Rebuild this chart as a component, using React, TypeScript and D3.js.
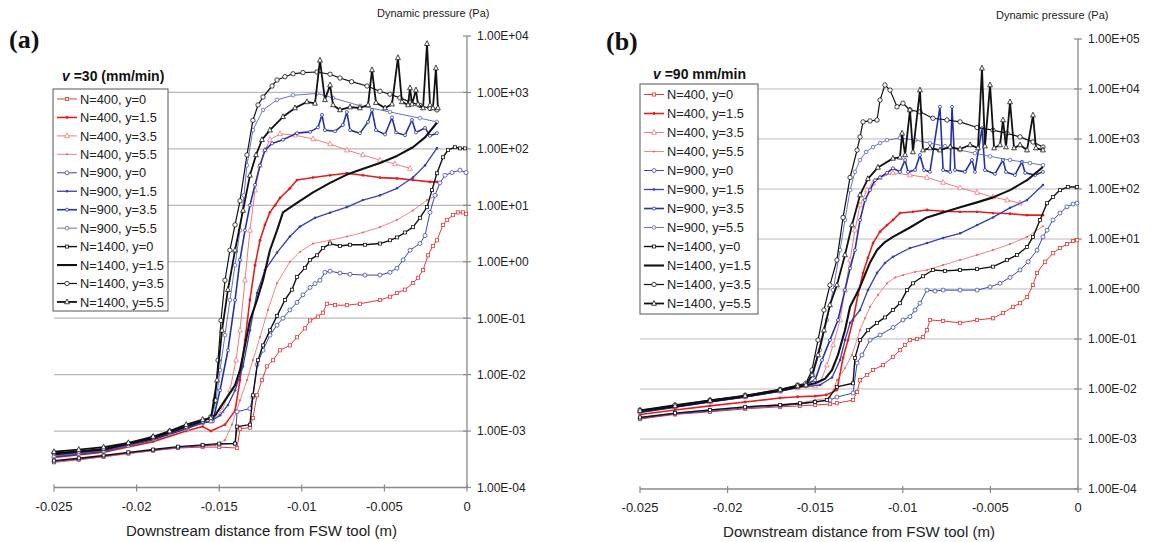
import React from "react";
import * as d3 from "d3";

type Pt = [number, number];

// ---------- axis / label data ----------
const xTickValues = [-0.025, -0.02, -0.015, -0.01, -0.005, 0];
const xTickLabels = ["-0.025", "-0.02", "-0.015", "-0.01", "-0.005", "0"];
const yTickValuesA = [1e-4, 1e-3, 1e-2, 1e-1, 1, 10, 100, 1000, 10000];
const yTickLabelsA = ["1.00E-04", "1.00E-03", "1.00E-02", "1.00E-01", "1.00E+00", "1.00E+01", "1.00E+02", "1.00E+03", "1.00E+04"];
const yTickValuesB = [1e-4, 1e-3, 1e-2, 1e-1, 1, 10, 100, 1000, 10000, 100000];
const yTickLabelsB = ["1.00E-04", "1.00E-03", "1.00E-02", "1.00E-01", "1.00E+00", "1.00E+01", "1.00E+02", "1.00E+03", "1.00E+04", "1.00E+05"];
const seriesLabels = [
  "N=400, y=0", "N=400, y=1.5", "N=400, y=3.5", "N=400, y=5.5",
  "N=900, y=0", "N=900, y=1.5", "N=900, y=3.5", "N=900, y=5.5",
  "N=1400, y=0", "N=1400, y=1.5", "N=1400, y=3.5", "N=1400, y=5.5",
];
const yAxisTitle = "Dynamic pressure (Pa)";
const xAxisTitle = "Downstream distance from FSW tool (m)";

// ---------- panel (a): v = 30 mm/min ----------
const a_N400_y0: Pt[] = [[-0.025,2.8e-4],[-0.0235,3.1e-4],[-0.022,3.5e-4],[-0.0205,4.0e-4],[-0.019,4.5e-4],[-0.0175,5.0e-4],[-0.016,5.2e-4],[-0.015,5.2e-4],[-0.01392,5.0e-4],[-0.01374,1.1e-3],[-0.01314,1.15e-3],[-0.01296,1.7e-3],[-0.01271,4.3e-3],[-0.01241,8.0e-3],[-0.01211,0.014],[-0.01174,0.018],[-0.01132,0.027],[-0.01072,0.033],[-0.01029,0.046],[-0.00981,0.066],[-0.0095,0.091],[-0.00902,0.107],[-0.00872,0.125],[-0.00848,0.18],[-0.00799,0.17],[-0.00727,0.17],[-0.00648,0.18],[-0.00527,0.21],[-0.00466,0.24],[-0.00424,0.28],[-0.00375,0.32],[-0.00327,0.42],[-0.00297,0.52],[-0.00266,0.71],[-0.00236,1.3],[-0.00206,1.9],[-0.00182,2.4],[-0.00145,4.5],[-0.00121,5.5],[-0.00085,6.7],[-0.00055,7.5],[-0.00024,7.5],[-0.00006,7.0]];
const a_N400_y15: Pt[] = [[-0.025,3.4e-4],[-0.022,4.2e-4],[-0.019,6.5e-4],[-0.017,1.0e-3],[-0.016,1.2e-3],[-0.0155,1.0e-3],[-0.01465,1.3e-3],[-0.01404,2.3e-3],[-0.01374,8.0e-3],[-0.01344,0.041],[-0.01314,0.21],[-0.01283,0.87],[-0.01253,2.4],[-0.01223,4.5],[-0.01193,7.5],[-0.01162,10],[-0.01132,13.5],[-0.01072,20],[-0.01029,28],[-0.00932,31],[-0.00829,34],[-0.00727,37],[-0.0063,34],[-0.00527,31],[-0.00424,30],[-0.00327,28],[-0.00224,26],[-0.00182,26]];
const a_N400_y35: Pt[] = [[-0.025,3.6e-4],[-0.022,4.5e-4],[-0.019,7.2e-4],[-0.017,1.1e-3],[-0.016,1.4e-3],[-0.0155,1.5e-3],[-0.01483,2.3e-3],[-0.01435,5.3e-3],[-0.01398,0.018],[-0.01374,0.061],[-0.01344,0.47],[-0.01314,3.6],[-0.01283,18.6],[-0.01253,51],[-0.01223,95],[-0.01193,145],[-0.01132,185],[-0.01041,175],[-0.00932,150],[-0.00829,122],[-0.00727,95],[-0.0063,78],[-0.00527,63],[-0.00436,54],[-0.00345,45]];
const a_N400_y55: Pt[] = [[-0.025,2.8e-4],[-0.022,3.5e-4],[-0.019,4.5e-4],[-0.017,5.2e-4],[-0.01525,5.6e-4],[-0.01465,6.9e-4],[-0.01423,1.3e-3],[-0.01374,3.5e-3],[-0.01332,8.0e-3],[-0.01296,0.018],[-0.01253,0.046],[-0.01205,0.14],[-0.0115,0.42],[-0.01072,1.0],[-0.01011,1.5],[-0.00932,2.1],[-0.00829,2.4],[-0.00727,2.8],[-0.0063,3.3],[-0.00527,4.1],[-0.00424,5.5],[-0.00327,8.1],[-0.00242,12.4],[-0.00182,15]];
const a_N900_y0: Pt[] = [[-0.025,2.9e-4],[-0.0235,3.2e-4],[-0.022,3.6e-4],[-0.0205,4.1e-4],[-0.019,4.6e-4],[-0.0175,5.1e-4],[-0.016,5.5e-4],[-0.015,5.8e-4],[-0.01404,6.0e-4],[-0.01392,2.2e-3],[-0.01314,2.5e-3],[-0.01296,4.0e-3],[-0.01271,0.015],[-0.01235,0.027],[-0.01193,0.05],[-0.0115,0.075],[-0.01114,0.1],[-0.01072,0.14],[-0.01029,0.19],[-0.00993,0.26],[-0.0095,0.35],[-0.0092,0.41],[-0.0089,0.47],[-0.0086,0.65],[-0.00829,0.68],[-0.00769,0.63],[-0.00708,0.6],[-0.00618,0.58],[-0.00527,0.58],[-0.00466,0.65],[-0.00424,0.77],[-0.00387,1.08],[-0.00345,1.6],[-0.00285,2.1],[-0.00254,2.9],[-0.00224,7.5],[-0.00194,15],[-0.00164,25],[-0.00133,34],[-0.00091,38],[-0.00042,42],[-0.00006,38]];
const a_N900_y15: Pt[] = [[-0.025,3.8e-4],[-0.022,4.6e-4],[-0.019,7.4e-4],[-0.017,1.15e-3],[-0.016,1.45e-3],[-0.0155,1.5e-3],[-0.01495,1.9e-3],[-0.01447,2.9e-3],[-0.01404,5.3e-3],[-0.01356,0.014],[-0.01314,0.061],[-0.01271,0.28],[-0.01223,0.71],[-0.0115,1.45],[-0.01072,2.8],[-0.01011,4.2],[-0.0092,6.0],[-0.00829,7.4],[-0.00727,9.3],[-0.0063,12.4],[-0.00527,15],[-0.00424,20],[-0.00327,31],[-0.00254,51],[-0.00182,103]];
const a_N900_y35: Pt[] = [[-0.025,3.5e-4],[-0.022,4.4e-4],[-0.019,7.0e-4],[-0.017,1.1e-3],[-0.016,1.4e-3],[-0.01538,1.5e-3],[-0.01495,5.3e-3],[-0.01447,0.027],[-0.01404,0.21],[-0.01374,1.08],[-0.01344,3.6],[-0.01314,10],[-0.01283,23],[-0.01253,51],[-0.01223,95],[-0.0118,125],[-0.01114,145],[-0.01029,190],[-0.0095,200],[-0.00902,240],[-0.00878,400],[-0.0086,215],[-0.00799,205],[-0.00751,265],[-0.00727,450],[-0.00708,215],[-0.00648,190],[-0.00599,300],[-0.00575,490],[-0.00551,215],[-0.00496,180],[-0.00454,360],[-0.0043,195],[-0.00375,175],[-0.00333,325],[-0.00309,195],[-0.00254,235],[-0.00224,170],[-0.00182,190]];
const a_N900_y55: Pt[] = [[-0.025,3.6e-4],[-0.0235,4.0e-4],[-0.022,4.5e-4],[-0.0205,5.5e-4],[-0.019,7.3e-4],[-0.018,9.3e-4],[-0.017,1.15e-3],[-0.016,1.45e-3],[-0.0155,1.5e-3],[-0.01519,3.5e-3],[-0.01495,0.012],[-0.01465,0.05],[-0.01435,0.21],[-0.01404,0.87],[-0.01374,3.6],[-0.0135,15],[-0.01332,51],[-0.01296,215],[-0.01235,490],[-0.0115,740],[-0.01053,890],[-0.00908,960],[-0.00811,800],[-0.00648,580],[-0.00466,450],[-0.00285,350],[-0.00182,300]];
const a_N1400_y0: Pt[] = [[-0.025,3.0e-4],[-0.0235,3.3e-4],[-0.022,3.7e-4],[-0.0205,4.2e-4],[-0.019,4.7e-4],[-0.0175,5.3e-4],[-0.016,5.7e-4],[-0.015,6.0e-4],[-0.01404,6.0e-4],[-0.01392,1.2e-3],[-0.01314,1.3e-3],[-0.01296,4.3e-3],[-0.01265,0.018],[-0.01235,0.033],[-0.01193,0.061],[-0.0115,0.11],[-0.01102,0.21],[-0.0106,0.32],[-0.01029,0.54],[-0.00981,0.78],[-0.0095,1.08],[-0.00908,1.3],[-0.00872,1.75],[-0.00829,2.1],[-0.00769,1.9],[-0.00708,2.0],[-0.00618,2.0],[-0.00527,2.1],[-0.00466,2.4],[-0.00424,2.7],[-0.00375,3.3],[-0.00327,4.1],[-0.00285,6.0],[-0.00242,9.3],[-0.00212,18.6],[-0.00182,37],[-0.00145,71],[-0.00115,95],[-0.00073,107],[-0.00042,102],[-0.00012,102]];
const a_N1400_y15: Pt[] = [[-0.025,3.9e-4],[-0.022,4.7e-4],[-0.019,7.5e-4],[-0.017,1.2e-3],[-0.016,1.5e-3],[-0.01525,1.9e-3],[-0.01465,3.5e-3],[-0.01404,6.5e-3],[-0.01374,0.012],[-0.01344,0.033],[-0.01314,0.091],[-0.01271,0.21],[-0.01235,0.47],[-0.01193,1.6],[-0.0115,3.6],[-0.01114,7.5],[-0.01029,11],[-0.00932,17],[-0.00829,25],[-0.00727,35],[-0.00624,45],[-0.00527,56],[-0.00424,75],[-0.00327,107],[-0.00254,160],[-0.00182,290]];
const a_N1400_y35: Pt[] = [[-0.025,4.1e-4],[-0.0235,4.4e-4],[-0.022,4.9e-4],[-0.0205,6.0e-4],[-0.019,7.8e-4],[-0.018,1.0e-3],[-0.017,1.2e-3],[-0.016,1.5e-3],[-0.0155,1.8e-3],[-0.01525,3.5e-3],[-0.01507,0.018],[-0.01489,0.091],[-0.01465,0.47],[-0.01435,1.6],[-0.01404,4.5],[-0.01374,12],[-0.01332,78],[-0.01296,320],[-0.01265,600],[-0.01235,830],[-0.0118,1300],[-0.0115,1660],[-0.01102,1900],[-0.01053,2140],[-0.00993,2250],[-0.00908,2300],[-0.00829,2100],[-0.00769,1800],[-0.00699,1550],[-0.00605,1300],[-0.00527,1050],[-0.00466,930],[-0.00406,800],[-0.00345,680],[-0.00285,590],[-0.00224,520],[-0.00182,490]];
const a_N1400_y55: Pt[] = [[-0.025,4.3e-4],[-0.0235,4.7e-4],[-0.022,5.2e-4],[-0.0205,6.2e-4],[-0.019,8.0e-4],[-0.018,1.0e-3],[-0.017,1.3e-3],[-0.016,1.6e-3],[-0.0155,1.7e-3],[-0.01513,0.008],[-0.01483,0.061],[-0.01447,0.32],[-0.01404,1.6],[-0.01356,8.1],[-0.01314,34],[-0.01277,78],[-0.01241,145],[-0.01193,215],[-0.01114,370],[-0.01041,530],[-0.00969,680],[-0.0092,640],[-0.0089,3700],[-0.0086,740],[-0.00829,1350],[-0.00811,600],[-0.00769,490],[-0.00708,550],[-0.00648,530],[-0.00599,600],[-0.00575,2500],[-0.00551,660],[-0.00496,530],[-0.00454,620],[-0.00418,4100],[-0.00394,680],[-0.00357,600],[-0.00345,1200],[-0.00333,620],[-0.00309,1100],[-0.00297,620],[-0.00266,530],[-0.00242,7300],[-0.00224,600],[-0.00206,530],[-0.00188,2700],[-0.00176,530]];

// ---------- panel (b): v = 90 mm/min ----------
const b_N400_y0: Pt[] = [[-0.025,2.5e-3],[-0.023,3.1e-3],[-0.021,3.5e-3],[-0.019,4.0e-3],[-0.017,4.4e-3],[-0.01587,4.6e-3],[-0.01501,4.8e-3],[-0.01416,5.0e-3],[-0.01376,5.2e-3],[-0.01284,6.0e-3],[-0.01261,8.7e-3],[-0.01244,0.015],[-0.01204,0.019],[-0.0117,0.024],[-0.01113,0.03],[-0.01056,0.044],[-0.01016,0.06],[-0.00987,0.076],[-0.00959,0.095],[-0.00919,0.1],[-0.00885,0.11],[-0.00862,0.15],[-0.00845,0.24],[-0.0077,0.23],[-0.00673,0.21],[-0.00576,0.24],[-0.00485,0.26],[-0.00428,0.33],[-0.00371,0.44],[-0.00331,0.52],[-0.00291,0.69],[-0.00257,1.2],[-0.00234,2.1],[-0.00188,3.5],[-0.00143,5.2],[-0.00103,6.6],[-0.00063,7.9],[-0.00028,9.1],[-0.00006,9.5]];
const b_N400_y15: Pt[] = [[-0.025,3.1e-3],[-0.023,3.8e-3],[-0.021,4.6e-3],[-0.019,5.5e-3],[-0.017,6.6e-3],[-0.016,7.0e-3],[-0.01501,7.2e-3],[-0.01438,7.6e-3],[-0.01376,9.5e-3],[-0.01341,0.042],[-0.01313,0.095],[-0.01284,0.24],[-0.01256,0.76],[-0.01227,2.1],[-0.01199,4.2],[-0.0117,8.3],[-0.0113,14],[-0.0109,19],[-0.01056,24],[-0.01016,33],[-0.00942,35],[-0.00862,38],[-0.0077,36],[-0.00673,35],[-0.00576,35],[-0.00485,33],[-0.00388,32],[-0.00291,30],[-0.002,30]];
const b_N400_y35: Pt[] = [[-0.025,3.5e-3],[-0.023,4.4e-3],[-0.021,5.5e-3],[-0.019,6.9e-3],[-0.017,9.0e-3],[-0.016,0.0105],[-0.01501,0.0115],[-0.01473,0.013],[-0.01433,0.03],[-0.01398,0.076],[-0.01358,0.24],[-0.0133,0.95],[-0.01301,3.8],[-0.01273,15],[-0.01244,48],[-0.01204,95],[-0.0117,130],[-0.0113,170],[-0.01056,210],[-0.00959,190],[-0.00862,170],[-0.0077,135],[-0.00673,105],[-0.00576,85],[-0.00485,69],[-0.00405,60],[-0.00331,52]];
const b_N400_y55: Pt[] = [[-0.025,2.7e-3],[-0.023,3.3e-3],[-0.021,3.8e-3],[-0.019,4.4e-3],[-0.017,4.9e-3],[-0.01587,5.2e-3],[-0.01501,6.0e-3],[-0.01416,6.6e-3],[-0.01376,0.015],[-0.0133,0.026],[-0.0129,0.048],[-0.01244,0.15],[-0.01216,0.26],[-0.01187,0.44],[-0.01142,0.76],[-0.0109,1.3],[-0.01044,1.7],[-0.00999,1.9],[-0.0093,2.2],[-0.00862,2.4],[-0.0077,3.0],[-0.00673,3.8],[-0.00576,4.8],[-0.00485,6.0],[-0.00388,7.9],[-0.00291,11],[-0.002,18]];
const b_N900_y0: Pt[] = [[-0.025,2.6e-3],[-0.023,3.2e-3],[-0.021,3.6e-3],[-0.019,4.2e-3],[-0.017,4.6e-3],[-0.01587,5.0e-3],[-0.01501,5.5e-3],[-0.01416,6.0e-3],[-0.01376,6.9e-3],[-0.01284,8.3e-3],[-0.01261,0.033],[-0.01233,0.048],[-0.01187,0.095],[-0.0113,0.12],[-0.01056,0.17],[-0.00999,0.24],[-0.00959,0.28],[-0.0093,0.38],[-0.00902,0.52],[-0.00862,0.95],[-0.00816,0.91],[-0.0077,0.95],[-0.00673,0.95],[-0.00576,0.95],[-0.00502,1.1],[-0.00445,1.3],[-0.00388,1.7],[-0.00331,2.4],[-0.00285,3.5],[-0.00234,6.0],[-0.002,11],[-0.00177,15],[-0.00143,24],[-0.00103,33],[-0.00063,44],[-0.00028,50],[-0.00006,52]];
const b_N900_y15: Pt[] = [[-0.025,3.5e-3],[-0.023,4.4e-3],[-0.021,5.6e-3],[-0.019,7.0e-3],[-0.017,9.1e-3],[-0.016,0.011],[-0.01473,0.012],[-0.01404,0.017],[-0.01358,0.038],[-0.0133,0.095],[-0.01301,0.21],[-0.01244,0.38],[-0.01199,0.95],[-0.01147,2.1],[-0.01102,3.3],[-0.01056,4.4],[-0.00959,6.6],[-0.00862,8.3],[-0.0077,10.5],[-0.00673,13],[-0.00576,19],[-0.00485,27],[-0.00388,42],[-0.00291,60],[-0.002,120]];
const b_N900_y35: Pt[] = [[-0.025,3.4e-3],[-0.023,4.3e-3],[-0.021,5.5e-3],[-0.019,6.9e-3],[-0.017,9.0e-3],[-0.016,0.0108],[-0.01501,0.015],[-0.01461,0.038],[-0.01416,0.095],[-0.0137,0.24],[-0.0133,0.95],[-0.01301,2.6],[-0.01273,6.0],[-0.01244,24],[-0.01216,60],[-0.01187,95],[-0.01159,150],[-0.0113,170],[-0.0109,210],[-0.01056,260],[-0.01016,220],[-0.00987,380],[-0.0097,220],[-0.0093,240],[-0.00902,480],[-0.00879,240],[-0.00845,220],[-0.00788,4400],[-0.0077,240],[-0.0073,220],[-0.00719,4400],[-0.00702,240],[-0.00645,220],[-0.00605,380],[-0.00588,220],[-0.00548,1650],[-0.00531,240],[-0.00474,200],[-0.00428,380],[-0.00411,220],[-0.0036,190],[-0.0032,350],[-0.00302,210],[-0.00245,190],[-0.002,220]];
const b_N900_y55: Pt[] = [[-0.025,3.5e-3],[-0.023,4.4e-3],[-0.021,5.6e-3],[-0.019,7.0e-3],[-0.017,9.2e-3],[-0.016,0.011],[-0.01553,0.0115],[-0.01512,0.019],[-0.01473,0.06],[-0.01433,0.24],[-0.01398,0.95],[-0.01358,6.0],[-0.0133,24],[-0.01301,95],[-0.01273,220],[-0.01244,380],[-0.0121,550],[-0.0117,690],[-0.0113,830],[-0.0109,950],[-0.01016,1050],[-0.0093,950],[-0.00845,830],[-0.00759,720],[-0.00673,600],[-0.00588,520],[-0.00502,450],[-0.00388,380],[-0.00274,330],[-0.002,300]];
const b_N1400_y0: Pt[] = [[-0.025,2.7e-3],[-0.023,3.3e-3],[-0.021,3.8e-3],[-0.019,4.4e-3],[-0.017,4.8e-3],[-0.01587,5.2e-3],[-0.01501,5.5e-3],[-0.01433,6.0e-3],[-0.01376,0.011],[-0.01284,0.013],[-0.01273,0.042],[-0.01244,0.095],[-0.01199,0.15],[-0.01147,0.21],[-0.01102,0.27],[-0.01056,0.38],[-0.01016,0.52],[-0.00976,0.95],[-0.00942,1.3],[-0.00885,1.8],[-0.00828,2.4],[-0.00759,2.3],[-0.00673,2.4],[-0.00576,2.5],[-0.00485,2.8],[-0.00405,3.8],[-0.00348,4.8],[-0.00291,6.9],[-0.00257,11],[-0.00217,24],[-0.00177,52],[-0.00143,69],[-0.00103,95],[-0.00057,110],[-0.00006,110]];
const b_N1400_y15: Pt[] = [[-0.025,3.6e-3],[-0.023,4.5e-3],[-0.021,5.7e-3],[-0.019,7.1e-3],[-0.017,9.3e-3],[-0.016,0.011],[-0.01501,0.013],[-0.01444,0.016],[-0.01404,0.024],[-0.0137,0.048],[-0.0133,0.15],[-0.01301,0.44],[-0.01244,1.1],[-0.01187,3.4],[-0.01147,6.0],[-0.01102,8.7],[-0.01056,11],[-0.00959,17],[-0.00862,27],[-0.0077,34],[-0.00673,43],[-0.00576,54],[-0.00485,68],[-0.00388,95],[-0.00291,150],[-0.002,275]];
const b_N1400_y35: Pt[] = [[-0.025,3.8e-3],[-0.023,4.8e-3],[-0.021,6.0e-3],[-0.019,7.5e-3],[-0.017,9.8e-3],[-0.016,0.012],[-0.01553,0.013],[-0.01518,0.024],[-0.01484,0.095],[-0.0145,0.38],[-0.01416,1.2],[-0.01376,3.8],[-0.01341,27],[-0.01301,170],[-0.01261,600],[-0.01244,1100],[-0.01227,2200],[-0.01187,2300],[-0.01147,2400],[-0.0113,6000],[-0.01102,12000],[-0.01073,9500],[-0.01033,4400],[-0.00999,5200],[-0.00959,3800],[-0.00902,3500],[-0.00828,2600],[-0.00748,2400],[-0.00673,2200],[-0.00576,1700],[-0.00485,1500],[-0.00405,1300],[-0.00331,1100],[-0.00257,870],[-0.002,690]];
const b_N1400_y55: Pt[] = [[-0.025,3.7e-3],[-0.023,4.6e-3],[-0.021,5.9e-3],[-0.019,7.3e-3],[-0.017,9.6e-3],[-0.016,0.0115],[-0.01553,0.012],[-0.01518,0.019],[-0.01484,0.048],[-0.0145,0.15],[-0.01416,0.48],[-0.01376,1.2],[-0.0133,4.8],[-0.0129,19],[-0.01244,76],[-0.01199,160],[-0.01142,270],[-0.01056,410],[-0.01016,430],[-0.01004,1300],[-0.00987,480],[-0.00959,3800],[-0.00942,550],[-0.00902,9500],[-0.00885,600],[-0.00845,660],[-0.00788,600],[-0.0073,690],[-0.00673,630],[-0.00616,760],[-0.00571,660],[-0.00548,26000],[-0.00531,720],[-0.00502,12000],[-0.00479,660],[-0.00445,760],[-0.00428,2400],[-0.00411,690],[-0.00388,5500],[-0.00365,660],[-0.00331,760],[-0.00291,600],[-0.00257,3000],[-0.0024,660],[-0.002,600]];

const seriesA: Pt[][] = [a_N400_y0, a_N400_y15, a_N400_y35, a_N400_y55, a_N900_y0, a_N900_y15, a_N900_y35, a_N900_y55, a_N1400_y0, a_N1400_y15, a_N1400_y35, a_N1400_y55];
const seriesB: Pt[][] = [b_N400_y0, b_N400_y15, b_N400_y35, b_N400_y55, b_N900_y0, b_N900_y15, b_N900_y35, b_N900_y55, b_N1400_y0, b_N1400_y15, b_N1400_y35, b_N1400_y55];

// ---------- styles ----------
type Style = { color: string; width: number; marker: string; size: number };
const styles: Style[] = [
  { color: "#e23a3a", width: 1.0, marker: "square", size: 3.2 },
  { color: "#e41e1e", width: 1.6, marker: "dot", size: 1.4 },
  { color: "#f07b7b", width: 1.0, marker: "triangle", size: 3.0 },
  { color: "#f06565", width: 0.8, marker: "dot", size: 1.1 },
  { color: "#3848b6", width: 1.0, marker: "circle", size: 2.0 },
  { color: "#3343b2", width: 1.3, marker: "dot", size: 1.3 },
  { color: "#2433a4", width: 1.6, marker: "circle", size: 1.5 },
  { color: "#5465c4", width: 0.9, marker: "circle", size: 1.8 },
  { color: "#111111", width: 1.4, marker: "square", size: 3.0 },
  { color: "#111111", width: 2.1, marker: "none", size: 0 },
  { color: "#111111", width: 1.2, marker: "circle", size: 2.2 },
  { color: "#111111", width: 1.8, marker: "triangle", size: 3.0 },
];

const FONT = "'Liberation Sans', Arial, sans-serif";
const TXT = "#222";

function Marker({ s, x, y }: { s: Style; x: number; y: number }) {
  if (s.marker === "square")
    return <rect x={x - s.size / 2} y={y - s.size / 2} width={s.size} height={s.size} fill="#fff" stroke={s.color} strokeWidth={0.8} />;
  if (s.marker === "circle")
    return <circle cx={x} cy={y} r={s.size} fill="#fff" stroke={s.color} strokeWidth={0.8} />;
  if (s.marker === "triangle") {
    const h = s.size;
    return <path d={`M${x},${y - h}L${x + h * 0.8},${y + h * 0.6}L${x - h * 0.8},${y + h * 0.6}Z`} fill="#fff" stroke={s.color} strokeWidth={0.8} />;
  }
  if (s.marker === "dot") return <circle cx={x} cy={y} r={s.size} fill={s.color} />;
  return null;
}

type PanelProps = {
  series: Pt[][];
  left: number; right: number; top: number; bottom: number;
  yMax: number; yTicks: number[]; yLabels: string[];
  letter: string; letterX: number; letterY: number;
  titleX: number; titleY: number;
  vText: string; vX: number; vY: number;
  legX: number; legY: number; legW: number; legH: number; rowY0: number; rowStep: number;
  xTitleY: number; xTitleX: number; xTitleW: number;
};

function Panel(p: PanelProps) {
  const x = d3.scaleLinear().domain([-0.025, 0]).range([p.left, p.right]);
  const y = d3.scaleLog().domain([1e-4, p.yMax]).range([p.bottom, p.top]);
  const line = d3.line<Pt>().x((d) => x(d[0])).y((d) => y(d[1]));
  const gridTicks = p.yTicks.filter((t) => t > 1e-4 && t < p.yMax);
  return (
    <g>
      {gridTicks.map((t) => (
        <line key={"g" + t} x1={p.left} x2={p.right} y1={y(t)} y2={y(t)} stroke="#b9b9b9" strokeWidth={1.2} />
      ))}
      <line x1={p.left} x2={p.right} y1={p.bottom} y2={p.bottom} stroke="#8a8a8a" strokeWidth={1.3} />
      <line x1={p.right} x2={p.right} y1={p.top} y2={p.bottom} stroke="#8a8a8a" strokeWidth={1.3} />
      {xTickValues.map((t, i) => (
        <g key={"xt" + i}>
          <line x1={x(t)} x2={x(t)} y1={p.bottom - 3} y2={p.bottom + 4} stroke="#8a8a8a" strokeWidth={1.2} />
          <text x={x(t)} y={p.bottom + 23} textAnchor="middle" fontSize={13} fontFamily={FONT} fill={TXT}>{xTickLabels[i]}</text>
        </g>
      ))}
      {p.yTicks.map((t, i) => (
        <g key={"yt" + i}>
          <line x1={p.right - 4} x2={p.right + 4} y1={y(t)} y2={y(t)} stroke="#8a8a8a" strokeWidth={1.2} />
          <text x={p.right + 10} y={y(t)} dy="0.36em" fontSize={12} fontFamily={FONT} fill={TXT}>{p.yLabels[i]}</text>
        </g>
      ))}
      {p.series.map((d, i) => (
        <g key={"s" + i}>
          <path d={line(d) || ""} fill="none" stroke={styles[i].color} strokeWidth={styles[i].width} strokeLinejoin="round" />
          {d.map((pt, j) => <Marker key={j} s={styles[i]} x={x(pt[0])} y={y(pt[1])} />)}
        </g>
      ))}
      <text x={p.letterX} y={p.letterY} fontSize={26} fontWeight="bold" fontFamily="'Liberation Serif', 'Times New Roman', serif" fill="#111">{p.letter}</text>
      <text x={p.titleX} y={p.titleY} fontSize={11} fontFamily={FONT} fill={TXT}>{yAxisTitle}</text>
      <text x={p.xTitleX} y={p.xTitleY} textLength={p.xTitleW} lengthAdjust="spacingAndGlyphs" fontSize={14} fontFamily={FONT} fill={TXT}>{xAxisTitle}</text>
      <text x={p.vX} y={p.vY} fontSize={14} fontWeight="bold" fontFamily={FONT} fill="#111">
        <tspan fontStyle="italic">v</tspan>
        <tspan>{p.vText}</tspan>
      </text>
      <rect x={p.legX} y={p.legY} width={p.legW} height={p.legH} fill="#fff" stroke="#555" strokeWidth={1} />
      {seriesLabels.map((lab, i) => {
        const cy = p.rowY0 + i * p.rowStep;
        const x0 = p.legX + 4;
        const x1 = p.legX + 24;
        return (
          <g key={"l" + i}>
            <line x1={x0} x2={x1} y1={cy} y2={cy} stroke={styles[i].color} strokeWidth={styles[i].width} />
            <Marker s={styles[i]} x={(x0 + x1) / 2} y={cy} />
            <text x={p.legX + 27} y={cy} dy="0.36em" fontSize={12.8} fontFamily={FONT} fill={TXT}>{lab}</text>
          </g>
        );
      })}
    </g>
  );
}

export default function App() {
  return (
    <svg width={1153} height={542} style={{ position: "absolute", left: 0, top: 0, background: "#fff" }}>
      <rect x={0} y={0} width={1153} height={542} fill="#fff" />
      <Panel
        series={seriesA} left={54} right={467} top={36} bottom={487.5}
        yMax={1e4} yTicks={yTickValuesA} yLabels={yTickLabelsA}
        letter="(a)" letterX={9} letterY={48}
        titleX={377} titleY={17}
        vText=" =30 (mm/min)" vX={62} vY={81}
        legX={53} legY={89} legW={115} legH={222} rowY0={99} rowStep={18.45}
        xTitleY={536} xTitleX={126} xTitleW={271}
      />
      <Panel
        series={seriesB} left={640} right={1078} top={39} bottom={489}
        yMax={1e5} yTicks={yTickValuesB} yLabels={yTickLabelsB}
        letter="(b)" letterX={606} letterY={50}
        titleX={996} titleY={19}
        vText=" =90 mm/min" vX={653} vY={79}
        legX={640} legY={84} legW={118} legH={230} rowY0={94.5} rowStep={19}
        xTitleY={537} xTitleX={723} xTitleW={272}
      />
    </svg>
  );
}
